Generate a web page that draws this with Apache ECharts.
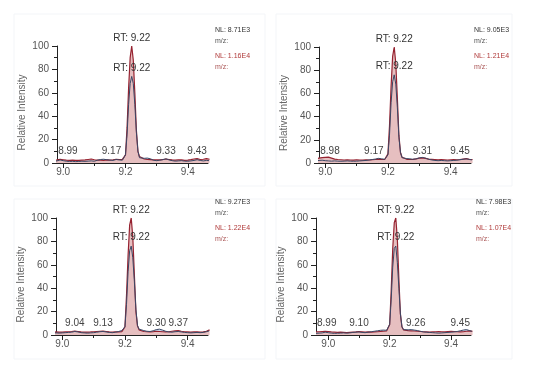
<!DOCTYPE html>
<html><head><meta charset="utf-8">
<script src="https://cdn.jsdelivr.net/npm/echarts@6/dist/echarts.min.js"></script>
<style>html,body{margin:0;padding:0;background:#fff}#c{width:542px;height:371px}</style>
</head><body><div id="c"></div>
<script>
// retention times (min), shared by all four chromatograms
const times = [8.96,8.97,8.98,8.99,9.00,9.01,9.02,9.03,9.04,9.05,9.06,9.07,9.08,9.09,9.10,9.11,9.12,9.13,9.14,9.15,9.16,9.17,9.18,9.19,
  9.195,9.20,9.205,9.21,9.215,9.22,9.225,9.23,9.235,9.24,9.245,9.25,
  9.26,9.27,9.28,9.29,9.30,9.31,9.32,9.33,9.34,9.35,9.36,9.37,9.38,9.39,9.40,9.41,9.42,9.43,9.44,9.45,9.46,9.47];

// panel 1 (top-left)
const p1Red  = [2.2,2.4,2.6,3.2,2.8,2.4,2.2,2.5,2.3,2.2,2.4,2.6,3.0,3.4,2.8,2.4,2.5,2.3,2.6,2.5,2.8,3.2,3.0,3.1,
  3.8,7,30,64,90,100,88,60,28,10,5.5,4,
  3.4,3.0,2.9,2.6,2.8,2.6,3.0,3.4,3.0,2.6,2.5,2.8,2.6,2.3,2.5,2.9,3.4,3.8,3.0,3.2,3.8,3.2];
const p1Blue = [1.2,1.4,1.8,2.6,2.0,1.5,1.3,1.4,1.2,1.3,1.5,1.4,1.6,1.8,1.5,2.4,3.0,3.2,2.8,2.5,2.2,3.0,2.6,2.4,
  3.2,7,24,50,68,74,68,50,26,10,4.5,3.2,
  4.0,4.2,3.6,2.4,2.0,2.4,2.8,3.6,2.6,2.0,1.6,1.8,2.0,1.6,1.5,1.8,2.2,2.8,2.2,1.8,2.2,2.0];
const p1NL = ['NL: 8.71E3', 'NL: 1.16E4'];
const p1Peaks = [8.99, 9.17, 9.33, 9.43];

// panel 2 (top-right)
const p2Red  = [3.0,3.4,4.2,4.6,4.8,5.0,4.2,3.4,3.0,2.8,2.6,2.8,2.6,2.5,2.8,2.6,2.5,2.7,2.6,2.8,3.0,3.4,3.0,3.2,
  4.0,8,32,66,92,100,86,56,24,9,5,3.6,
  3.2,3.0,3.2,3.6,4.2,4.4,4.0,3.4,3.2,3.0,2.8,3.0,2.8,2.6,2.8,3.0,2.8,3.0,3.4,3.8,3.2,3.0];
const p2Blue = [1.5,1.8,2.2,2.4,2.0,1.8,1.6,1.8,1.6,1.5,1.6,1.8,1.6,1.5,1.6,1.8,2.0,2.2,2.6,3.0,3.4,4.0,3.6,3.2,
  3.8,7,24,52,70,76,68,48,22,9,4.6,3.6,
  3.8,3.6,3.2,3.6,4.4,4.8,4.2,3.2,2.6,2.2,2.0,2.2,2.0,1.8,2.0,2.2,2.4,2.8,3.2,3.6,3.0,2.6];
const p2NL = ['NL: 9.05E3', 'NL: 1.21E4'];
const p2Peaks = [8.98, 9.17, 9.31, 9.45];

// panel 3 (bottom-left)
const p3Red  = [2.2,2.4,2.6,2.5,2.4,2.6,2.8,3.0,3.4,3.0,2.6,2.4,2.5,2.6,2.8,3.0,3.2,3.4,3.0,2.6,2.5,2.7,2.6,2.8,
  3.4,7,34,68,94,100,84,52,20,8,4.4,3.4,
  3.0,2.8,2.6,2.8,3.2,3.0,2.8,2.6,2.8,3.2,3.6,3.8,3.2,2.8,2.6,2.4,2.6,2.8,2.4,2.6,3.2,4.4];
const p3Blue = [1.4,1.6,1.8,1.6,1.8,2.0,2.2,2.4,3.0,2.6,2.0,1.8,1.6,1.8,2.0,2.4,2.8,3.0,2.6,2.2,2.0,2.4,3.0,3.8,
  4.4,7,26,54,72,76,66,46,22,8,5,4.4,
  3.8,3.2,3.0,3.6,4.6,5.0,4.2,3.2,2.6,2.4,2.8,3.0,2.6,2.2,2.0,1.8,2.0,2.2,2.0,2.2,2.8,3.6];
const p3NL = ['NL: 9.27E3', 'NL: 1.22E4'];
const p3Peaks = [9.04, 9.13, 9.30, 9.37];

// panel 4 (bottom-right)
const p4Red  = [2.6,2.8,3.0,3.2,3.0,2.6,2.4,2.2,2.4,2.2,2.0,2.2,2.4,2.6,3.0,2.8,2.4,2.6,2.4,2.6,2.8,3.0,3.2,3.4,
  4.2,9,38,74,96,100,82,48,18,7,4.4,3.8,
  3.8,3.6,3.4,3.2,3.0,2.8,2.6,2.4,2.6,2.8,3.0,2.8,2.6,3.0,3.2,3.0,2.8,2.6,2.8,3.2,3.6,3.2];
const p4Blue = [1.4,1.6,1.8,2.4,2.0,1.6,1.4,1.5,1.6,1.8,1.6,1.8,2.2,2.4,2.6,2.2,2.0,2.4,2.8,3.2,3.6,4.0,4.2,4.0,
  4.4,9,30,58,74,76,62,40,18,7,4.6,4.2,
  4.4,4.6,4.2,3.8,3.2,2.6,2.4,2.2,2.0,1.8,1.6,1.8,2.0,2.2,2.4,2.6,3.0,3.6,4.2,4.6,3.8,3.0];
const p4NL = ['NL: 7.98E3', 'NL: 1.07E4'];
const p4Peaks = [8.99, 9.10, 9.26, 9.45];

const xTickLabels = [9.0, 9.2, 9.4];
const xMinorTicks = [9.1, 9.3];
const yName = 'Relative Intensity';
const mzLabel = 'm/z:';

const panels = [
  {red:p1Red, blue:p1Blue, nl:p1NL, peaks:p1Peaks, grid:{left:57, top:46, width:151, height:117}, xMin:8.98, xMax:9.465, nlX:215, nlY:27, box:[14,14,251,172]},
  {red:p2Red, blue:p2Blue, nl:p2NL, peaks:p2Peaks, grid:{left:319, top:47, width:152, height:116}, xMin:8.98, xMax:9.465, nlX:474, nlY:27, box:[276,14,236,172]},
  {red:p3Red, blue:p3Blue, nl:p3NL, peaks:p3Peaks, grid:{left:56, top:218, width:152, height:117}, xMin:8.98, xMax:9.465, nlX:215, nlY:199, box:[14,199,251,160]},
  {red:p4Red, blue:p4Blue, nl:p4NL, peaks:p4Peaks, grid:{left:316, top:218, width:155, height:117}, xMin:8.96, xMax:9.465, nlX:476, nlY:199, box:[276,199,236,160]}
];

const FONT = 'Liberation Sans, Arial, sans-serif';
const grids = [], xAxes = [], yAxes = [], series = [], graphics = [];

function zip(v){ return times.map((t,i)=>[t, v[i]]); }
function argMax(v){ let k=0; v.forEach((x,i)=>{ if(x>v[k]) k=i; }); return k; }

panels.forEach((p, i) => {
  grids.push(Object.assign({containLabel:false}, p.grid));
  const axBase = {type:'value', gridIndex:i, min:p.xMin, max:p.xMax, position:'bottom', splitLine:{show:false}};
  xAxes.push(Object.assign({}, axBase, {
    axisLine:{show:true, onZero:false, lineStyle:{color:'#222', width:1}},
    axisTick:{show:true, customValues:xTickLabels, length:5, lineStyle:{color:'#222'}},
    axisLabel:{show:true, customValues:xTickLabels, formatter:v=>v.toFixed(1), color:'#555', fontSize:10, fontFamily:FONT, margin:4}
  }));
  xAxes.push(Object.assign({}, axBase, {
    axisLine:{show:false},
    axisTick:{show:true, customValues:xMinorTicks, length:3, lineStyle:{color:'#222'}},
    axisLabel:{show:false}
  }));
  yAxes.push({type:'value', gridIndex:i, min:0, max:100, interval:20,
    splitLine:{show:false},
    axisLine:{show:true, lineStyle:{color:'#222', width:1}},
    axisTick:{show:true, length:5, lineStyle:{color:'#222'}},
    minorTick:{show:true, splitNumber:2, length:3, lineStyle:{color:'#222'}},
    axisLabel:{color:'#555', fontSize:10, fontFamily:FONT, margin:8},
    name:yName, nameLocation:'middle', nameGap:30,
    nameTextStyle:{color:'#666', fontSize:10, fontFamily:FONT, padding:[0,16,0,0]}
  });

  const rk = argMax(p.red), bk = argMax(p.blue);
  const peakLabelData = p.peaks.map(rt => {
    let x = rt;
    if (Math.abs(x - times[rk]) < 0.065) x = times[rk] + (x < times[rk] ? -0.065 : 0.065);
    x = Math.max(p.xMin + 0.035, Math.min(p.xMax - 0.035, x));
    return {coord:[x, 10], value: rt, label:{formatter: rt.toFixed(2), position:'inside'}};
  });

  series.push({type:'line', xAxisIndex:2*i, yAxisIndex:i, data:zip(p.blue), symbol:'none',
    lineStyle:{width:0}, areaStyle:{color:'#c8d8ee', opacity:1}, z:1, silent:true});
  series.push({type:'line', xAxisIndex:2*i, yAxisIndex:i, data:zip(p.red), symbol:'none',
    lineStyle:{color:'#962230', width:1.2}, areaStyle:{color:'#e6bfc0', opacity:1}, z:2, silent:true,
    markPoint:{symbol:'circle', symbolSize:1, itemStyle:{color:'rgba(0,0,0,0)'}, silent:true, animation:false,
      label:{show:true, color:'#444', fontSize:10, fontFamily:FONT},
      data:[{coord:[times[rk], p.red[rk]], label:{formatter:'RT: ' + times[rk].toFixed(2), position:'top', distance:2, color:'#333'}}].concat(peakLabelData)
    }});
  series.push({type:'line', xAxisIndex:2*i, yAxisIndex:i, data:zip(p.blue), symbol:'none',
    lineStyle:{color:'#3b4866', width:1}, z:3, silent:true,
    markPoint:{symbol:'circle', symbolSize:1, itemStyle:{color:'rgba(0,0,0,0)'}, silent:true, animation:false,
      label:{show:true, color:'#333', fontSize:10, fontFamily:FONT, position:'top', distance:3},
      data:[{coord:[times[bk], p.blue[bk]], label:{formatter:'RT: ' + times[bk].toFixed(2)}}]
    }});

  const texts = [[p.nl[0], '#333'], [mzLabel, '#555'], [p.nl[1], '#b03a3a'], [mzLabel, '#a55']];
  const dy = [0, 11, 26, 37];
  texts.forEach((t, j) => graphics.push({type:'text', left:p.nlX, top:p.nlY + dy[j], silent:true,
    style:{text:t[0], fill:t[1], fontSize:7, fontFamily:FONT}}));
  graphics.push({type:'rect', silent:true, shape:{x:p.box[0], y:p.box[1], width:p.box[2], height:p.box[3]},
    style:{fill:'none', stroke:'#f3f5f8', lineWidth:1}, z:-1});
});

const chart = echarts.init(document.getElementById('c'), null, {renderer:'canvas'});
chart.setOption({animation:false, backgroundColor:'#fff', grid:grids, xAxis:xAxes, yAxis:yAxes, series:series, graphic:graphics});
</script></body></html>
